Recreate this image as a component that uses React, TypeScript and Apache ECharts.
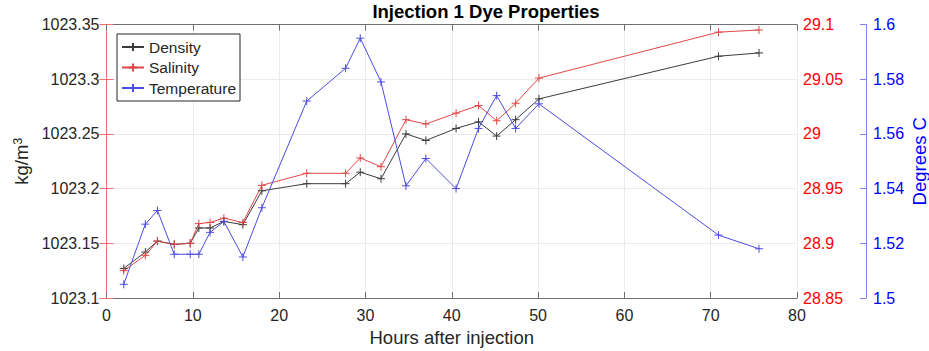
import React, { useEffect, useRef } from "react";
import * as echarts from "echarts";

// Sampling times (hours after injection)
const hours = [2.0, 4.5, 5.9, 7.85, 9.7, 10.7, 12.0, 13.6, 15.8, 18.0, 23.2, 27.7, 29.4, 31.8, 34.7, 37.0, 40.5, 43.1, 45.2, 47.4, 50.1, 70.9, 75.6];

// Density (kg/m^3)
const density = [1023.127, 1023.142, 1023.152, 1023.149, 1023.150, 1023.164, 1023.164, 1023.170, 1023.167, 1023.198, 1023.2045, 1023.2045, 1023.215, 1023.209, 1023.250, 1023.244, 1023.255, 1023.261, 1023.248, 1023.263, 1023.282, 1023.321, 1023.324];

// Salinity
const salinity = [28.875, 28.889, 28.902, 28.899, 28.900, 28.918, 28.919, 28.923, 28.919, 28.953, 28.964, 28.964, 28.978, 28.970, 29.013, 29.009, 29.019, 29.026, 29.012, 29.028, 29.051, 29.093, 29.095];

// Temperature (degrees C)
const temperature = [1.505, 1.527, 1.532, 1.516, 1.516, 1.516, 1.524, 1.528, 1.515, 1.533, 1.572, 1.584, 1.595, 1.579, 1.541, 1.551, 1.540, 1.562, 1.574, 1.562, 1.571, 1.523, 1.518];

const seriesNames = ["Density", "Salinity", "Temperature"];
const xTicks = { min: 0, max: 80, interval: 10 };

const FONT = '"Liberation Sans", Arial, Helvetica, sans-serif';
const TEXT = "#262626";
const PLUS = "path://M5,0L5,10M0,5L10,5";

const fmt = (v: number) => String(+v.toFixed(3));

export default function App() {
  const ref = useRef<HTMLDivElement>(null);

  useEffect(() => {
    const chart = echarts.init(ref.current!, null, { renderer: "svg" });
    const pairs = (ys: number[]) => hours.map((h, i) => [h, ys[i]]);
    const lineSeries = (name: string, ys: number[], color: string, axis: number) => ({
      name,
      type: "line",
      yAxisIndex: axis,
      data: pairs(ys),
      symbol: PLUS,
      symbolSize: 8,
      showSymbol: true,
      lineStyle: { color, width: 1 },
      itemStyle: { color, borderColor: color, borderWidth: 1 },
    });

    chart.setOption({
      animation: false,
      backgroundColor: "#fff",
      textStyle: { fontFamily: FONT },
      title: {
        text: "Injection 1 Dye Properties",
        left: 486,
        top: 2,
        padding: 0,
        textAlign: "center",
        textStyle: { fontFamily: FONT, fontSize: 18.5, fontWeight: "bold", color: "#000" },
      },
      legend: {
        orient: "vertical",
        left: 117,
        top: 34,
        data: seriesNames,
        backgroundColor: "#fff",
        borderColor: TEXT,
        borderWidth: 1,
        borderRadius: 0,
        padding: [5, 4, 5, 4],
        itemWidth: 22,
        itemHeight: 10,
        itemGap: 4.5,
        textStyle: { fontFamily: FONT, fontSize: 15.5, color: TEXT, lineHeight: 16 },
      },
      grid: {
        left: 106.5,
        right: 132,
        top: 24.5,
        bottom: 53,
        containLabel: false,
        outerBoundsMode: "none",
      },
      xAxis: [
        {
          type: "value",
          ...xTicks,
          name: "Hours after injection",
          nameLocation: "middle",
          nameGap: 30,
          nameTextStyle: { fontFamily: FONT, fontSize: 18.5, color: TEXT },
          axisLine: { lineStyle: { color: "#707070", width: 1 } },
          axisTick: { inside: true, length: 6, lineStyle: { color: "#707070" } },
          axisLabel: { fontFamily: FONT, fontSize: 16, color: TEXT, margin: 9 },
          splitLine: { show: true, lineStyle: { color: "#ebebeb", width: 1 } },
        },
        {
          type: "value",
          ...xTicks,
          position: "top",
          axisLine: { show: true, lineStyle: { color: "#707070", width: 1 } },
          axisTick: { show: true, inside: true, length: 6, lineStyle: { color: "#707070" } },
          axisLabel: { show: false },
          splitLine: { show: false },
        },
      ],
      yAxis: [
        {
          type: "value",
          min: 1023.1,
          max: 1023.35,
          interval: 0.05,
          position: "left",
          name: "kg/m{sup|3}",
          nameLocation: "middle",
          nameGap: 75,
          nameRotate: 90,
          nameTextStyle: {
            fontFamily: FONT,
            fontSize: 18.5,
            color: TEXT,
            rich: { sup: { fontFamily: FONT, fontSize: 12.5, color: TEXT, verticalAlign: "top" } },
          },
          axisLine: { show: true, lineStyle: { color: "#f07070", width: 1 } },
          axisTick: { show: true, inside: true, length: 7, lineStyle: { color: "#f07070" } },
          axisLabel: { fontFamily: FONT, fontSize: 16, color: TEXT, margin: 7, formatter: fmt },
          splitLine: { show: true, lineStyle: { color: "#ebebeb", width: 1 } },
        },
        {
          type: "value",
          min: 28.85,
          max: 29.1,
          interval: 0.05,
          position: "right",
          axisLine: { show: true, lineStyle: { color: "#f07070", width: 1 } },
          axisTick: { show: true, inside: true, length: 7, lineStyle: { color: "#f07070" } },
          axisLabel: { fontFamily: FONT, fontSize: 16, color: "#ff0000", margin: 6, formatter: fmt },
          splitLine: { show: false },
        },
        {
          type: "value",
          min: 1.5,
          max: 1.6,
          interval: 0.02,
          position: "right",
          offset: 69,
          name: "Degrees C",
          nameLocation: "middle",
          nameGap: 44,
          nameRotate: 90,
          nameMoveOverlap: false,
          nameTextStyle: { fontFamily: FONT, fontSize: 18.5, color: "#0000ff" },
          axisLine: { show: true, lineStyle: { color: "#8080f0", width: 1 } },
          axisTick: { show: true, inside: true, length: 6, lineStyle: { color: "#8080f0" } },
          axisLabel: { fontFamily: FONT, fontSize: 16, color: "#0000ff", margin: 7, formatter: fmt },
          splitLine: { show: false },
        },
      ],
      series: [
        lineSeries(seriesNames[0], density, "#3c3c3c", 0),
        lineSeries(seriesNames[1], salinity, "#e04848", 1),
        lineSeries(seriesNames[2], temperature, "#4c4ce0", 2),
      ],
    });

    return () => chart.dispose();
  }, []);

  return (
    <div
      ref={ref}
      style={{ position: "fixed", left: 0, top: 0, width: 929, height: 351, background: "#fff" }}
    />
  );
}
